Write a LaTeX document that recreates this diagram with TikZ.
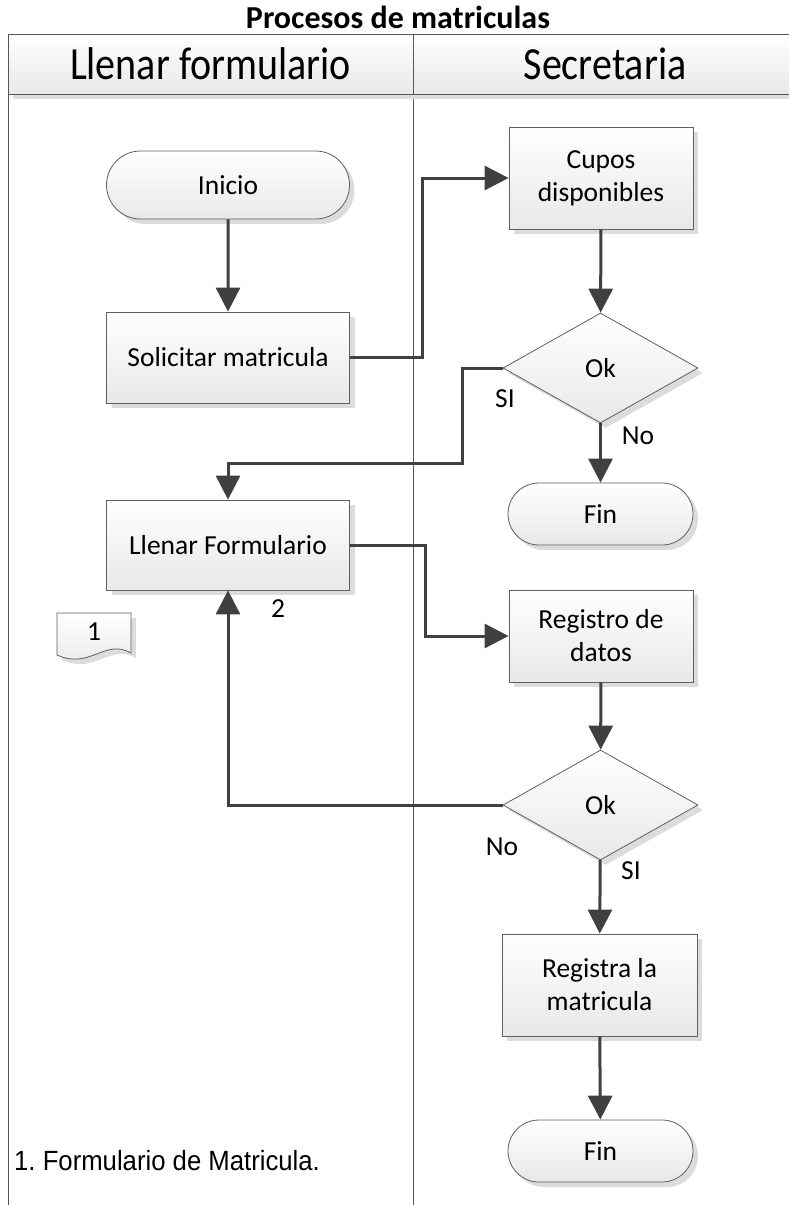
\documentclass[tikz,border=0pt]{standalone}
\usepackage{fontspec}
\setmainfont{Carlito}
\newfontfamily\arialfont{Liberation Sans}
\usetikzlibrary{arrows.meta,shapes.geometric,shapes.misc,shadows}
\definecolor{conn}{HTML}{404040}
\definecolor{bord}{HTML}{5F5F5F}
\definecolor{shad}{HTML}{DCDCDC}
\definecolor{fillb}{HTML}{E8E8E8}
\definecolor{lanec}{HTML}{555555}
\tikzset{
  shd/.style={drop shadow={shadow xshift=5pt, shadow yshift=-5pt, fill=shad, opacity=1}},
  base/.style={draw=bord, line width=0.8pt, top color=white, bottom color=fillb, shd,
    font=\fontsize{27.5}{33}\selectfont, align=center, inner sep=0pt},
  procbox/.style={base, rectangle},
  term/.style={base, rounded rectangle},
  decide/.style={base, diamond, aspect=1.77, minimum width=195pt, minimum height=110pt},
  hdr/.style={draw=lanec, line width=1pt, top color=white, bottom color=fillb, shd,
    font=\fontsize{40}{46}\selectfont, inner sep=0pt, minimum height=60pt},
  lane/.style={draw=lanec, line width=1pt},
  conn/.style={draw=conn, line width=3pt, -{Triangle[width=24pt,length=24pt]}},
  lbl/.style={font=\fontsize{27.5}{33}\selectfont, inner sep=0pt},
}
\begin{document}
\frenchspacing
\begin{tikzpicture}[x=1pt, y=-1pt]
\useasboundingbox (0,0) rectangle (788,1205);
% title
\node[font=\fontsize{32}{36}\selectfont\bfseries, inner sep=0pt] (title) at (398,17) {Procesos de matriculas};
% lanes
\draw[lane] (8,94) -- (8,1210);
\draw[lane] (413,94) -- (413,1210);
\node[hdr, minimum width=405pt] (h1) at (210.5,64) {\scalebox{1}[1.15]{Llenar formulario}};
\node[hdr, minimum width=384pt] (h2) at (605,64) {\scalebox{1}[1.15]{Secretaria}};
% left lane
\node[term, minimum width=243pt, minimum height=68pt] (ini) at (228,185) {Inicio};
\node[procbox, minimum width=243pt, minimum height=91pt] (sol) at (228,357.5) {Solicitar matricula};
\node[procbox, minimum width=243pt, minimum height=90pt] (llen) at (228,545) {Llenar Formulario};
\path[draw=bord, line width=0.8pt, top color=white, bottom color=fillb, shd]
  (57,613) -- (131,613) -- (131,653) .. controls (105,638) and (90,670) .. (57,655) -- cycle;
\node[lbl] (doc) at (94,632) {1};
\node[lbl] (two) at (278,609) {2};
\node[font=\arialfont\fontsize{26.5}{30}\selectfont, inner sep=0pt, anchor=west] (note) at (14,1161) {\scalebox{0.97}[1.05]{1. Formulario de Matricula.}};
% right lane
\node[procbox, minimum width=184pt, minimum height=102pt] (cupos) at (601,178) {Cupos\\disponibles};
\node[decide] (ok1) at (600.5,368) {Ok};
\node[term, minimum width=185pt, minimum height=62pt] (fin1) at (600.5,514) {Fin};
\node[procbox, minimum width=184pt, minimum height=92pt] (reg) at (601,636) {Registro de\\datos};
\node[decide] (ok2) at (600.5,805) {Ok};
\node[procbox, minimum width=195pt, minimum height=102pt] (regm) at (599.5,985) {Registra la\\matricula};
\node[term, minimum width=185pt, minimum height=62pt] (fin2) at (600.5,1151) {Fin};
% labels
\node[lbl] (si1) at (505,399) {SI};
\node[lbl] (no1) at (638,436) {No};
\node[lbl] (no2) at (502,847) {No};
\node[lbl] (si2) at (631,871) {SI};
% connectors
\draw[conn] (ini) -- (sol);
\draw[conn] (sol.east) -- ++(73,0) |- (cupos.west);
\draw[conn] (cupos) -- (ok1);
\draw[conn] (ok1.west) -- ++(-40,0) -- ++(0,95) -| (llen.north);
\draw[conn] (ok1) -- (fin1);
\draw[conn] (llen.east) -- ++(76,0) |- (reg.west);
\draw[conn] (reg) -- (ok2);
\draw[conn] (ok2.west) -| (llen.south);
\draw[conn] (ok2) -- (regm);
\draw[conn] (regm) -- (fin2);
\end{tikzpicture}
\end{document}
